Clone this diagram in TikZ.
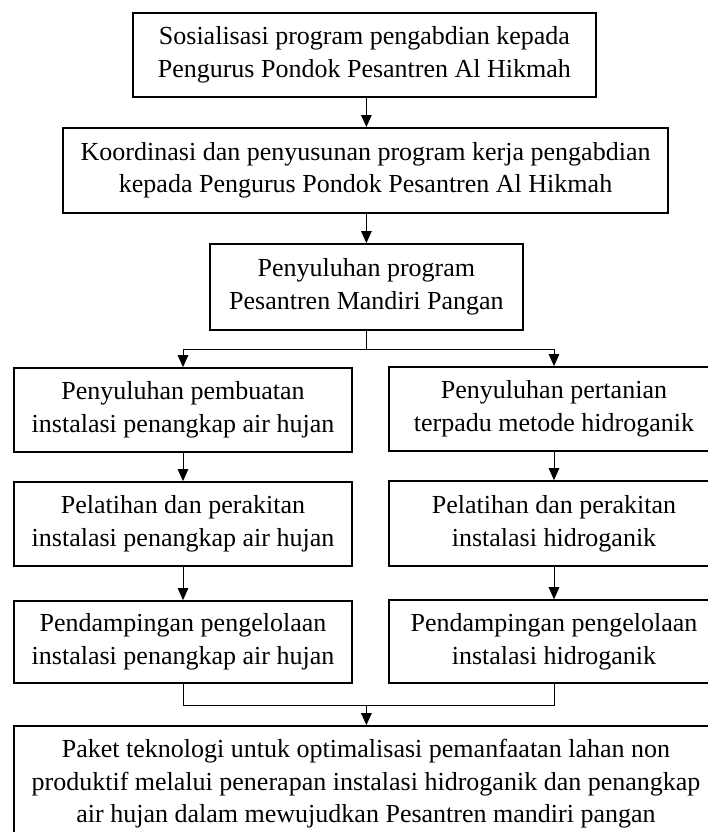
\documentclass[tikz,border=0pt]{standalone}
\usepackage{fontspec}
\setmainfont{Liberation Serif}
\usepackage{tikz}
\usetikzlibrary{arrows.meta,positioning}

\begin{document}
\begin{tikzpicture}[
    font=\fontsize{18.5}{23.2}\selectfont,
    block/.style={draw, line width=1.3pt, align=center, inner sep=0pt},
    line/.style={-{Triangle[length=8.5pt,width=7.5pt]}, line width=0.7pt},
    link/.style={line width=0.7pt}
]
\useasboundingbox (0,0) rectangle (17.7,-20.8);
\clip (0,0) rectangle (17.7,-20.8);
\node[block, minimum width=11.575cm, minimum height=2.1cm] (sosial) at (9.11,-1.375) {Sosialisasi program pengabdian kepada\\Pengurus Pondok Pesantren Al Hikmah};
\node[block, minimum width=15.125cm, minimum height=2.125cm] (koord) at (9.14,-4.26) {Koordinasi dan penyusunan program kerja pengabdian\\kepada Pengurus Pondok Pesantren Al Hikmah};
\node[block, minimum width=7.825cm, minimum height=2.15cm] (suluh) at (9.16,-7.175) {Penyuluhan program\\Pesantren Mandiri Pangan};
\node[block, minimum width=8.45cm, minimum height=2.1cm] (suluhair) at (4.575,-10.25) {Penyuluhan pembuatan\\instalasi penangkap air hujan};
\node[block, minimum width=8.45cm, minimum height=2.1cm] (latihair) at (4.575,-13.1) {Pelatihan dan perakitan\\instalasi penangkap air hujan};
\node[block, minimum width=8.45cm, minimum height=2.05cm] (dampair) at (4.575,-16.05) {Pendampingan pengelolaan\\instalasi penangkap air hujan};
\node[block, minimum width=8.25cm, minimum height=2.1cm] (suluhhid) at (13.85,-10.225) {Penyuluhan pertanian\\terpadu metode hidroganik};
\node[block, minimum width=8.25cm, minimum height=2.125cm] (latihhid) at (13.85,-13.09) {Pelatihan dan perakitan\\instalasi hidroganik};
\node[block, minimum width=8.25cm, minimum height=2.075cm] (damphid) at (13.85,-16.04) {Pendampingan pengelolaan\\instalasi hidroganik};
\node[block, minimum width=17.6cm, minimum height=2.9cm] (paket) at (9.15,-19.6) {Paket teknologi untuk optimalisasi pemanfaatan lahan non\\produktif melalui penerapan instalasi hidroganik dan penangkap\\air hujan dalam mewujudkan Pesantren mandiri pangan};
\coordinate (cabang) at (9.16,-8.725);
\coordinate (gabung) at (9.16,-17.625);
\draw[line] (sosial.south -| suluh.north) -- (koord.north -| suluh.north);
\draw[line] (koord.south -| suluh.north) -- (suluh.north);
\draw[link] (suluh.south) -- (cabang);
\draw[line] (cabang) -| (suluhair.north);
\draw[line] (cabang) -| (suluhhid.north);
\draw[line] (suluhair) -- (latihair);
\draw[line] (latihair) -- (dampair);
\draw[line] (suluhhid) -- (latihhid);
\draw[line] (latihhid) -- (damphid);
\draw[link] (dampair.south) |- (gabung);
\draw[link] (damphid.south) |- (gabung);
\draw[line] (gabung) -- (paket.north -| gabung);
\end{tikzpicture}
\end{document}
